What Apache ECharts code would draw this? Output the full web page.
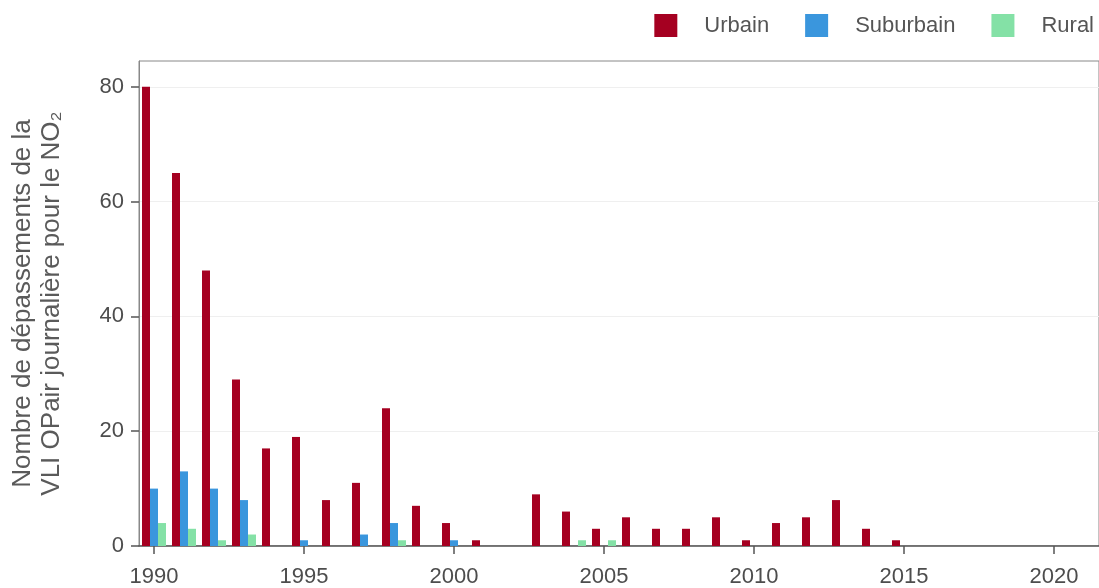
<!DOCTYPE html>
<html>
<head>
<meta charset="utf-8">
<style>
  html, body { margin: 0; padding: 0; background: #ffffff; }
  #chart { width: 1099px; height: 588px; }
</style>
<script src="https://cdn.jsdelivr.net/npm/echarts@6/dist/echarts.min.js"></script>
</head>
<body>
<div id="chart"></div>
<script>
const years = [];
for (let y = 1990; y <= 2021; y++) years.push(String(y));

const urbain    = [80, 65, 48, 29, 17, 19, 8, 11, 24, 7, 4, 1, 0, 9, 6, 3, 5, 3, 3, 5, 1, 4, 5, 8, 3, 1, 0, 0, 0, 0, 0, 0];
const suburbain = [10, 13, 10, 8, 0, 1, 0, 2, 4, 0, 1, 0, 0, 0, 0, 0, 0, 0, 0, 0, 0, 0, 0, 0, 0, 0, 0, 0, 0, 0, 0, 0];
const rural     = [4, 3, 1, 2, 0, 0, 0, 0, 1, 0, 0, 0, 0, 0, 1, 1, 0, 0, 0, 0, 0, 0, 0, 0, 0, 0, 0, 0, 0, 0, 0, 0];

const yTicks = [0, 20, 40, 60, 80];
const seriesNames = ['Urbain', 'Suburbain', 'Rural'];
const colors = ['#a50021', '#3a96dd', '#84e1a6'];

const font = '"Liberation Sans", Arial, sans-serif';
const chart = echarts.init(document.getElementById('chart'), null, { renderer: 'canvas' });

const mk = (name, data, color) => ({
  name: name,
  type: 'bar',
  data: data,
  barWidth: 8,
  barGap: '0%',
  itemStyle: { color: color },
  emphasis: { disabled: true }
});

chart.setOption({
  animation: false,
  textStyle: { fontFamily: font },
  legend: {
    right: 0,
    top: 9,
    itemWidth: 23,
    itemHeight: 23,
    itemGap: 36,
    icon: 'rect',
    textStyle: { fontSize: 22, color: '#555555', fontFamily: font, padding: [0, 0, 0, 22] },
    data: seriesNames
  },
  grid: {
    left: 138,
    width: 967,
    top: 61,
    bottom: 41,
    show: true,
    borderColor: '#888888',
    borderWidth: 1,
    containLabel: false
  },
  xAxis: {
    type: 'category',
    data: years,
    boundaryGap: true,
    axisLine: { show: true, lineStyle: { color: '#555555', width: 1.5 } },
    axisTick: { show: true, interval: 4, alignWithLabel: true, length: 8, lineStyle: { color: '#555555', width: 1.5 } },
    axisLabel: { interval: 4, fontSize: 22, color: '#4d4d4d', margin: 20, fontFamily: font },
    splitLine: { show: false }
  },
  yAxis: {
    type: 'value',
    min: 0,
    max: 84.5,
    interval: 20,
    name: 'Nombre de dépassements de la\nVLI OPair journalière pour le NO₂',
    nameLocation: 'middle',
    nameGap: 73,
    nameRotate: 90,
    nameTextStyle: { fontSize: 26, color: '#5a5a5a', lineHeight: 29, fontFamily: font },
    axisLine: { show: true, lineStyle: { color: '#888888', width: 1 } },
    axisTick: { show: true, length: 8, customValues: yTicks, lineStyle: { color: '#555555', width: 1.5 } },
    axisLabel: { customValues: yTicks, fontSize: 22, color: '#4d4d4d', margin: 15, fontFamily: font },
    splitLine: { show: true, lineStyle: { color: '#efefef', width: 1 } }
  },
  series: [
    mk(seriesNames[0], urbain, colors[0]),
    mk(seriesNames[1], suburbain, colors[1]),
    mk(seriesNames[2], rural, colors[2])
  ]
});
</script>
</body>
</html>
